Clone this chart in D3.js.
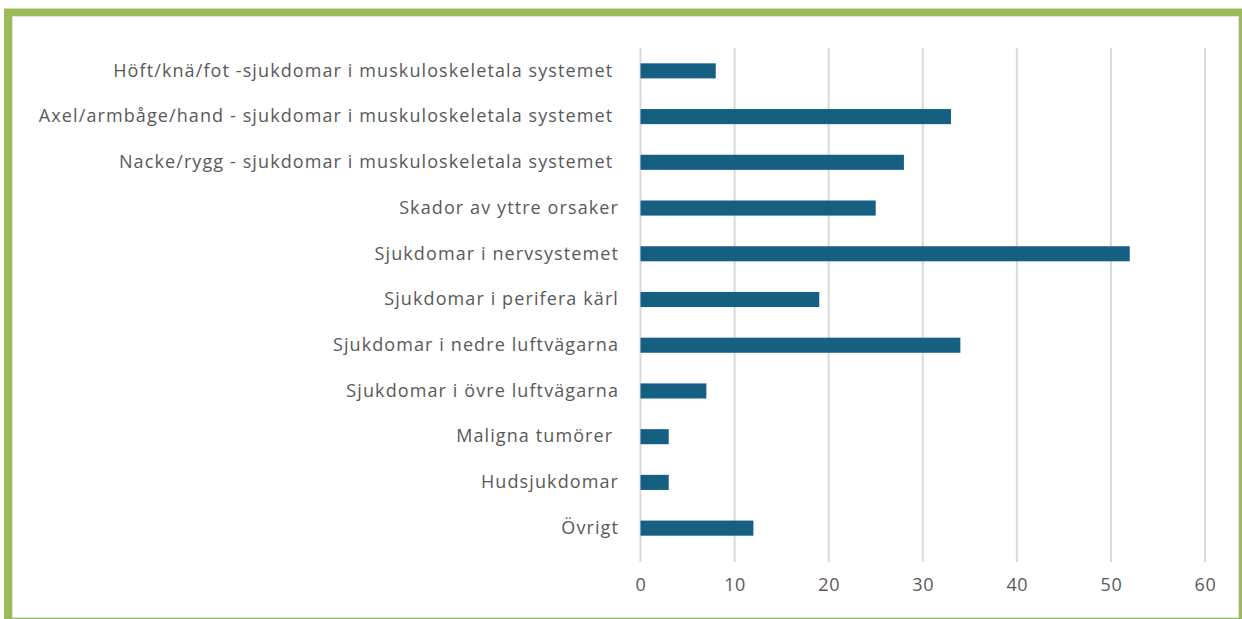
<!DOCTYPE html>
<html>
<head>
<meta charset="utf-8">
<script src="https://cdn.jsdelivr.net/npm/d3@7"></script>
<style>
  html, body { margin: 0; padding: 0; background: #fff; overflow: hidden; }
  text { white-space: pre; }
</style>
</head>
<body>
<svg id="chart" width="1242" height="619"></svg>
<script>
// categories, top to bottom as shown
var categories = [
  "Höft/knä/fot -sjukdomar i muskuloskeletala systemet ",
  "Axel/armbåge/hand - sjukdomar i muskuloskeletala systemet ",
  "Nacke/rygg - sjukdomar i muskuloskeletala systemet ",
  "Skador av yttre orsaker",
  "Sjukdomar i nervsystemet",
  "Sjukdomar i perifera kärl",
  "Sjukdomar i nedre luftvägarna",
  "Sjukdomar i övre luftvägarna",
  "Maligna tumörer ",
  "Hudsjukdomar",
  "Övrigt"
];
var values = [8, 33, 28, 25, 52, 19, 34, 7, 3, 3, 12];
var xTicks = [0, 10, 20, 30, 40, 50, 60];

var svg = d3.select("#chart");

// green frame around the chart (runs off the bottom and right edges)
svg.append("rect")
  .attr("x", 8)
  .attr("y", 12.5)
  .attr("width", 1235)
  .attr("height", 609.5)
  .attr("fill", "none")
  .attr("stroke", "#9bbb59")
  .attr("stroke-width", 8);
svg.append("rect")
  .attr("x", 12.5)
  .attr("y", 16.5)
  .attr("width", 1226)
  .attr("height", 601)
  .attr("fill", "none")
  .attr("stroke", "#e3e3e3")
  .attr("stroke-width", 1);

var x = d3.scaleLinear()
  .domain([0, 60])
  .range([640.5, 1205]);

var y = d3.scaleBand()
  .domain(categories)
  .range([48, 551])
  .paddingInner(0.67)
  .paddingOuter(0.335);

// vertical gridlines
svg.append("g")
  .selectAll("line")
  .data(xTicks)
  .join("line")
  .attr("x1", d => x(d))
  .attr("x2", d => x(d))
  .attr("y1", 48)
  .attr("y2", 562)
  .attr("stroke", "#d9d9d9")
  .attr("stroke-width", 2);

// bars
svg.append("g")
  .selectAll("rect")
  .data(values)
  .join("rect")
  .attr("x", x(0))
  .attr("y", (d, i) => y(categories[i]))
  .attr("width", d => x(d) - x(0))
  .attr("height", y.bandwidth())
  .attr("fill", "#156082");

// x axis labels
var xAxis = svg.append("g")
  .attr("transform", "translate(0,578)")
  .call(d3.axisBottom(x).tickValues(xTicks).tickSize(0).tickPadding(0));
xAxis.select(".domain").remove();
xAxis.selectAll("text")
  .attr("fill", "#595959")
  .attr("font-family", "Open Sans")
  .attr("font-size", 18)
  .attr("letter-spacing", 0.6);

// category labels
var yAxis = svg.append("g")
  .attr("transform", "translate(619,0)")
  .call(d3.axisLeft(y).tickSize(0).tickPadding(0));
yAxis.select(".domain").remove();
yAxis.selectAll("text")
  .attr("fill", "#595959")
  .attr("font-family", "Open Sans")
  .attr("font-size", 18)
  .attr("letter-spacing", 1.1);
</script>
</body>
</html>
